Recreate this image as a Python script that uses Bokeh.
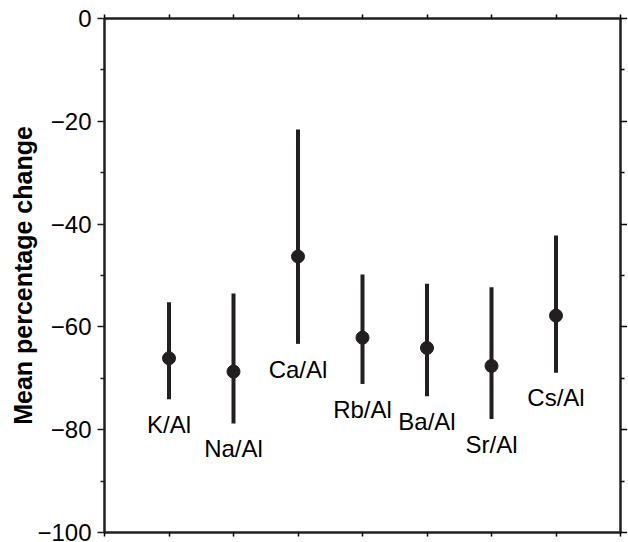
from bokeh.plotting import figure
from bokeh.models import LinearAxis, FixedTicker, ColumnDataSource, Range1d, CustomJSTickFormatter
from bokeh.embed import file_html
from bokeh.resources import INLINE
from bokeh.core.properties import value

categories = ["K/Al", "Na/Al", "Ca/Al", "Rb/Al", "Ba/Al", "Sr/Al", "Cs/Al"]
means = [-66.1, -68.7, -46.3, -62.1, -64.1, -67.6, -57.8]
upper = [-55.2, -53.5, -21.6, -49.8, -51.6, -52.3, -42.2]
lower = [-74.1, -78.8, -63.3, -71.1, -73.5, -77.9, -68.9]
y_ticks = [-100, -80, -60, -40, -20, 0]
y_minor = [-90, -70, -50, -30, -10]
label_gap = 4.9

FONT = "Liberation Sans"
INK = "#231f20"

xs = list(range(1, len(categories) + 1))
src = ColumnDataSource(dict(
    x=xs, mean=means, upper=upper, lower=lower, cat=categories,
    ly=[v - label_gap for v in lower],
))

p = figure(frame_width=516, frame_height=514,
           x_range=Range1d(0, len(categories) + 1), y_range=Range1d(-100, 0),
           output_backend="svg", toolbar_location=None,
           min_border_left=104, min_border_top=18, min_border_right=0,
           min_border_bottom=10, background_fill_color="white",
           border_fill_color="white")
p.grid.visible = False
p.outline_line_color = INK
p.outline_line_width = 2

p.segment(x0="x", y0="lower", x1="x", y1="upper", source=src,
          line_color=INK, line_width=4)
p.scatter(x="x", y="mean", source=src, size=13, fill_color=INK,
          line_color=INK)
p.text(x="x", y="ly", text="cat", source=src, text_font=value(FONT),
       text_font_size="24px", text_align="center", text_baseline="middle",
       text_color="black")

blank = CustomJSTickFormatter(code="return '';")

# left axis
ya = p.yaxis[0]
ya.ticker = FixedTicker(ticks=y_ticks, minor_ticks=y_minor)
ya.major_label_overrides = {t: ("\u2212" + str(-t) if t < 0 else str(t)) for t in y_ticks}
ya.major_label_text_font = FONT
ya.major_label_text_font_size = "24px"
ya.major_label_text_color = "black"
ya.major_label_standoff = 6
ya.major_tick_out = 7
ya.major_tick_in = 0
ya.minor_tick_out = 4
ya.minor_tick_in = 0
ya.axis_line_width = 2
ya.axis_line_color = INK
ya.major_tick_line_color = INK
ya.minor_tick_line_color = INK
ya.major_tick_line_width = 1.5
ya.minor_tick_line_width = 1.5
ya.axis_label = "Mean percentage change"
ya.axis_label_text_font = FONT
ya.axis_label_text_font_style = "bold"
ya.axis_label_text_font_size = "25px"
ya.axis_label_text_color = "black"
ya.axis_label_standoff = -3

# right axis
ra = LinearAxis(ticker=FixedTicker(ticks=y_ticks, minor_ticks=y_minor),
                formatter=blank)
ra.major_label_text_font_size = "1px"
ra.major_label_standoff = 0
ra.major_tick_out = 7
ra.major_tick_in = 0
ra.minor_tick_out = 4
ra.minor_tick_in = 0
ra.axis_line_width = 2
ra.axis_line_color = INK
ra.major_tick_line_width = 1.5
ra.minor_tick_line_width = 1.5
p.add_layout(ra, "right")

# bottom and top axes
xa = p.xaxis[0]
xticks = list(range(0, len(categories) + 2))
ta = LinearAxis()
p.add_layout(ta, "above")
for ax in (xa, ta):
    ax.ticker = FixedTicker(ticks=xticks, minor_ticks=[])
    ax.formatter = blank
    ax.major_label_text_font_size = "1px"
    ax.major_label_standoff = 0
    ax.major_tick_out = 4
    ax.major_tick_in = 0
    ax.minor_tick_out = 0
    ax.minor_tick_in = 0
    ax.axis_line_width = 2
    ax.axis_line_color = INK
    ax.major_tick_line_width = 1.5

open("out.html", "w").write(file_html(p, INLINE))
